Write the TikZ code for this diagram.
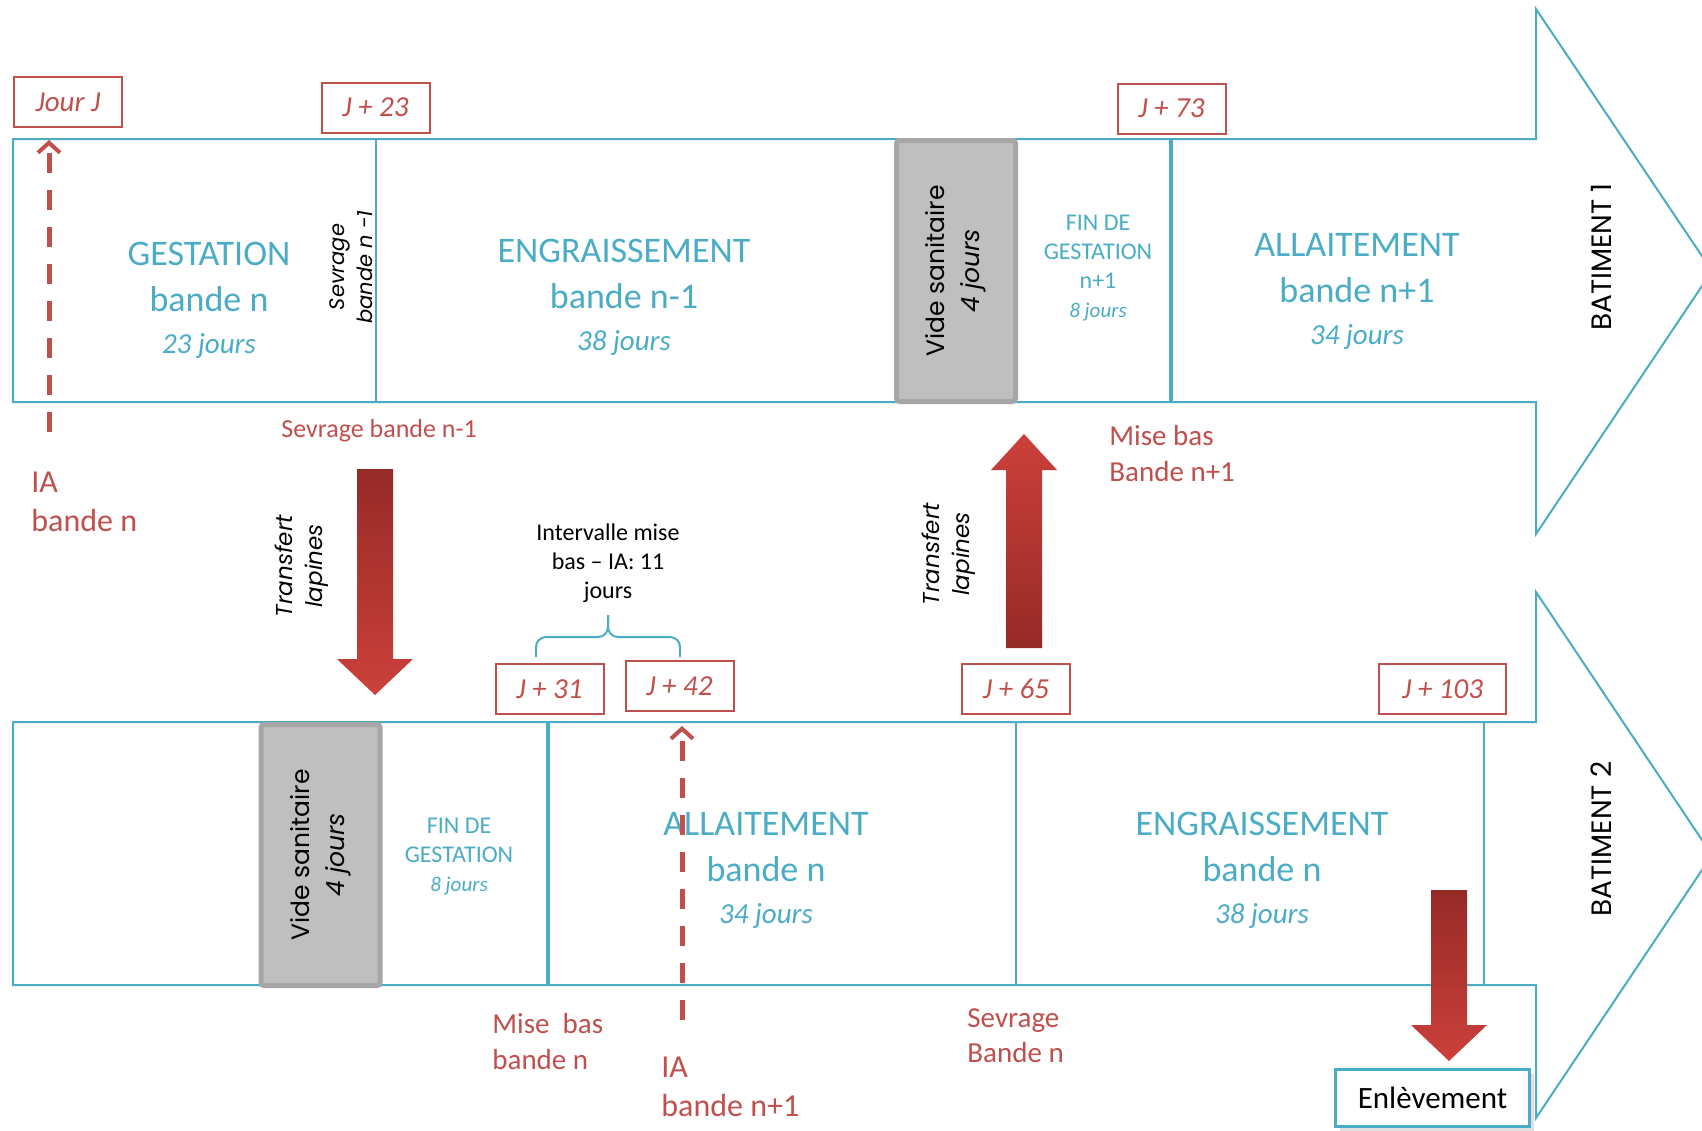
\documentclass[tikz,border=0pt]{standalone}
\usepackage{fontspec}
\setmainfont{Carlito}
\newfontfamily\gothique{Poppins}
\usetikzlibrary{calc,arrows.meta,shadows}

\definecolor{bleu}{HTML}{4BACC6}
\definecolor{rouge}{HTML}{C0504D}
\definecolor{rougefonce}{HTML}{962A27}
\definecolor{rougevif}{HTML}{CC403B}
\definecolor{gris}{HTML}{BFBFBF}
\definecolor{grisfonce}{HTML}{A6A6A6}

% duree d'une phase, en italique
\newcommand\duree[1]{{\fontsize{14.5}{17}\selectfont\itshape #1}}
\newcommand\dureecourte[1]{{\fontsize{10.5}{12}\selectfont\itshape #1}}

% grosse fleche verticale
% #1 ombrage, #2 queue, #3 pointe, #4 sens (1 = vers le bas, -1 = vers le haut), #5 demi-largeur de la tete
\newcommand\grossefleche[5]{%
  \shade[#1] ($(#2)+(-18,0)$) -- ($(#2)+(18,0)$)
    -- ($(#3)+(18,{-36*(#4)})$) -- ($(#3)+(#5,{-36*(#4)})$) -- (#3)
    -- ($(#3)+(-#5,{-36*(#4)})$) -- ($(#3)+(-18,{-36*(#4)})$) -- cycle;}

\begin{document}
\begin{tikzpicture}[x=0.5pt, y=-0.5pt,
    bande/.style={draw=bleu, line width=1pt},
    separation/.style={draw=bleu, line width=1.75pt},
    jour/.style={draw=rouge, line width=1pt, text=rouge, inner sep=0pt,
      minimum width=54pt, minimum height=25pt,
      font=\fontsize{14.5}{17}\selectfont\itshape},
    phase/.style={text=bleu, align=center, font=\fontsize{18}{23}\selectfont},
    finphase/.style={text=bleu, align=center, font=\fontsize{12}{14.5}\selectfont},
    vide/.style={draw=grisfonce, fill=gris, line width=2.5pt, rounded corners=1.5pt,
      rotate=90, minimum width=130.5pt, minimum height=59.5pt, align=center,
      font=\gothique\fontsize{12.5}{17.5}\selectfont},
    batiment/.style={rotate=90, font=\gothique\fontsize{14}{16}\selectfont},
    evenement/.style={text=rouge, align=left, anchor=west, inner sep=0pt},
    transfert/.style={rotate=90, align=center, font=\gothique\itshape\fontsize{11.5}{15}\selectfont},
    pointille/.style={draw=rouge, line width=2.5pt, dash pattern=on 10pt off 8.5pt,
      -{Straight Barb[length=5pt,width=11pt,line width=2pt]}},
    accolade/.style={draw=bleu, line width=1pt, rounded corners=5pt},
    ombrebas/.style={top color=rougefonce, bottom color=rougevif},
    ombrehaut/.style={top color=rougevif, bottom color=rougefonce},
  ]
  \useasboundingbox[fill=white] (0,0) rectangle (1702,1130);

  % batiment 1 : grande fleche du haut
  \draw[bande] (13,139) -- (1536,139) -- (1536,9) -- (1712,271) -- (1536,534)
    -- (1536,402) -- (13,402) -- cycle;
  \draw[bande] (376,139) -- (376,402);
  \draw[separation] (1171,139) -- (1171,402);

  % batiment 2 : grande fleche du bas
  \draw[bande] (13,722) -- (1536,722) -- (1536,592) -- (1712,855) -- (1536,1118)
    -- (1536,985) -- (13,985) -- cycle;
  \draw[separation] (548,722) -- (548,985);
  \draw[bande] (1016,722) -- (1016,985);
  \draw[bande] (1484,722) -- (1484,985);

  % vides sanitaires
  \node[vide] (vide haut) at (956,271) {Vide sanitaire\\\itshape 4 jours};
  \node[vide] (vide bas) at (320.5,855) {Vide sanitaire\\\itshape 4 jours};

  % phases du batiment 1
  \node[phase] (gestation) at (209,300) {GESTATION\\bande n\\[-2pt]\duree{23 jours}};
  \node[rotate=90, align=center, font=\gothique\itshape\fontsize{10.5}{14}\selectfont]
    (sevrage rot) at (351,267) {Sevrage\\bande n -1};
  \node[phase] (engraissement1) at (624,297) {ENGRAISSEMENT\\bande n-1\\[-2pt]\duree{38 jours}};
  \node[finphase] (fin gestation1) at (1098,268) {FIN DE\\GESTATION\\n+1\\\dureecourte{8 jours}};
  \node[phase] (allaitement1) at (1357,291) {ALLAITEMENT\\bande n+1\\[-2pt]\duree{34 jours}};
  \node[batiment] (batiment1) at (1601,257) {BATIMENT 1};

  % phases du batiment 2
  \node[finphase] (fin gestation2) at (459,857) {FIN DE\\GESTATION\\\dureecourte{8 jours}};
  \node[phase] (allaitement2) at (766,870) {ALLAITEMENT\\bande n\\[-2pt]\duree{34 jours}};
  \node[phase] (engraissement2) at (1262,870) {ENGRAISSEMENT\\bande n\\[-2pt]\duree{38 jours}};
  \node[batiment] (batiment2) at (1601,839) {BATIMENT 2};

  % jours
  \node[jour] (jourj) at (68,102) {Jour J};
  \node[jour] (j23) at (375.5,107.5) {J + 23};
  \node[jour] (j73) at (1171.5,108.5) {J + 73};
  \node[jour] (j31) at (549.5,689) {J + 31};
  \node[jour] (j42) at (679.5,686) {J + 42};
  \node[jour] (j65) at (1016,689) {J + 65};
  \node[jour, minimum width=63.5pt] (j103) at (1442.5,689) {J + 103};

  % evenements
  \node[evenement, font=\fontsize{16}{19.5}\selectfont] (ia n) at (31,502) {IA\\bande n};
  \node[text=rouge, font=\fontsize{13}{15}\selectfont] (sevrage n1) at (379,431) {Sevrage bande n-1};
  \node[evenement, font=\fontsize{14.5}{18}\selectfont] (mise bas n1) at (1109,454) {Mise bas\\Bande n+1};
  \node[evenement, font=\fontsize{14.5}{18}\selectfont] (mise bas n) at (492,1042) {Mise\ \ bas\\bande n};
  \node[evenement, font=\fontsize{16}{19.5}\selectfont] (ia n1) at (661,1087) {IA\\bande n+1};
  \node[evenement, font=\fontsize{14.5}{17.5}\selectfont] (sevrage n) at (967,1036) {Sevrage\\Bande n};

  % intervalle mise bas - IA
  \node[align=center, font=\fontsize{12}{14.6}\selectfont] (intervalle) at (608,563)
    {Intervalle mise\\bas – IA: 11\\jours};
  \coordinate (accolade g) at (536,657);
  \coordinate (accolade d) at (680,657);
  \coordinate (accolade m) at (608,615);
  \draw[accolade] (accolade g) |- ($(accolade m)+(0,22)$) -- (accolade m);
  \draw[accolade] (accolade d) |- ($(accolade m)+(0,22)$) -- (accolade m);

  % transferts des lapines
  \node[transfert] (transfert1) at (302,566) {Transfert\\lapines};
  \node[transfert] (transfert2) at (949,554) {Transfert\\lapines};
  \coordinate (transfert1 queue) at (375,469);
  \coordinate (transfert1 pointe) at (375,695);
  \grossefleche{ombrebas}{transfert1 queue}{transfert1 pointe}{1}{38}
  \coordinate (transfert2 queue) at (1024,648);
  \coordinate (transfert2 pointe) at (1024,434);
  \grossefleche{ombrehaut}{transfert2 queue}{transfert2 pointe}{-1}{33}

  % enlevement
  \node[draw=bleu, line width=1.5pt, fill=white, minimum width=97pt, minimum height=28.5pt,
    font=\fontsize{15.5}{18}\selectfont,
    drop shadow={opacity=0.25, shadow xshift=2pt, shadow yshift=-2pt}]
    (enlevement) at (1432.5,1098) {Enlèvement};
  \coordinate (enlevement queue) at (1449,890);
  \coordinate (enlevement pointe) at (1449,1061);
  \grossefleche{ombrebas}{enlevement queue}{enlevement pointe}{1}{38}

  % inseminations
  \coordinate (ia n depart) at (49,432);
  \draw[pointille, shorten >=6pt] (ia n depart) -- (ia n depart |- jourj.south);
  \coordinate (ia n1 depart) at (682,1020);
  \draw[pointille, shorten >=7pt] (ia n1 depart) -- (ia n1 depart |- j42.south);
\end{tikzpicture}
\end{document}
